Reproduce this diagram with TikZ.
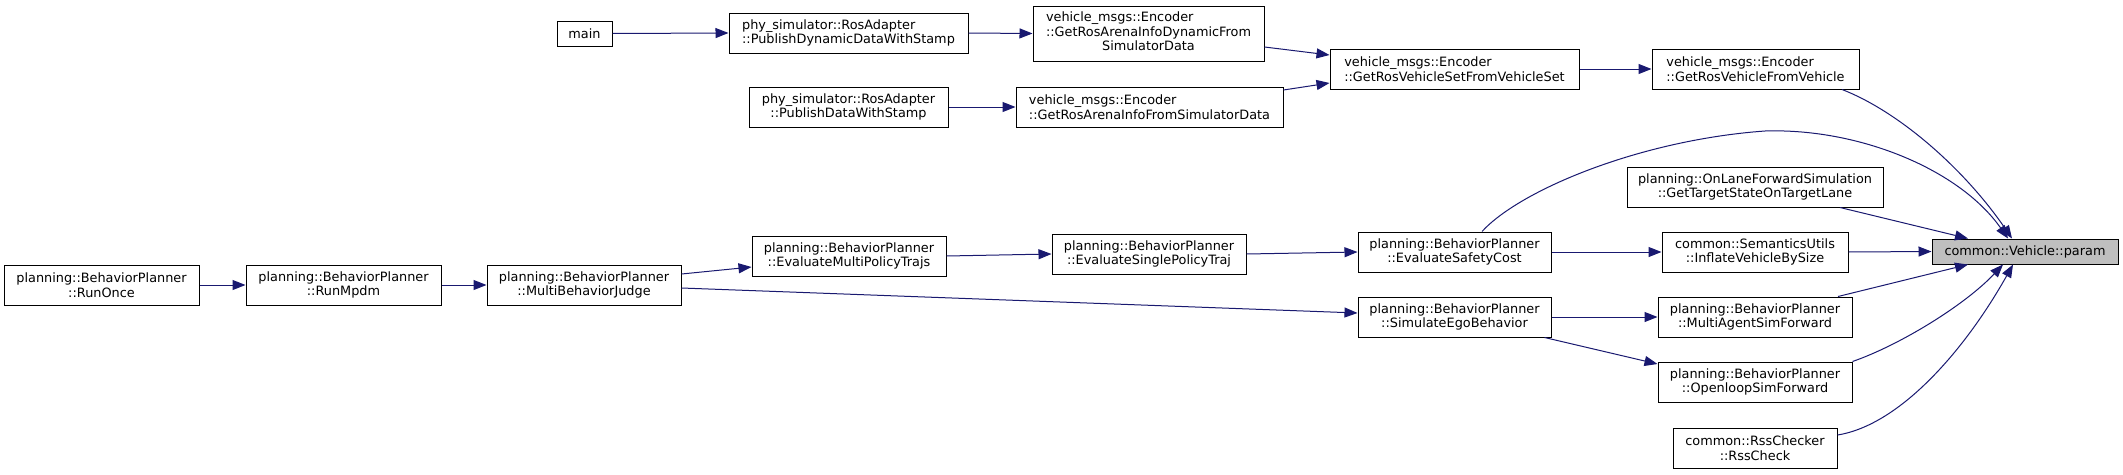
\documentclass[tikz,border=0pt]{standalone}
\usepackage{fontspec}
\setmainfont{DejaVu Sans}
\usetikzlibrary{arrows.meta,calc}
\definecolor{edgeblue}{HTML}{191970}
\definecolor{hlgray}{HTML}{BFBFBF}
\begin{document}
\begin{tikzpicture}[x=1pt,y=-1pt,
  box/.style={draw=black, line width=1pt, fill=white, inner sep=0pt,
    minimum height=40pt, font=\fontsize{12.85pt}{14.5pt}\selectfont, align=center},
  lbox/.style={box, align=left},
  edge/.style={draw=edgeblue, line width=1pt, -{Triangle[length=13pt,width=10pt]}}]
\useasboundingbox (0,0) rectangle (2123,474);
\fill[white] (0,0) rectangle (2123,474);

% column 2
\node[box, minimum width=55pt, minimum height=25pt] (main) at (584.5,33.5) {main};
\node[box, minimum width=194pt] (mbj) at (584,285) {planning::BehaviorPlanner\\::MultiBehaviorJudge};
% column 0,1
\node[box, minimum width=195pt] (runonce) at (101.5,285) {planning::BehaviorPlanner\\::RunOnce};
\node[box, minimum width=195pt] (runmpdm) at (343.5,285) {planning::BehaviorPlanner\\::RunMpdm};
% column 3
\node[lbox, minimum width=239pt] (pddws) at (848.5,33) {phy\_simulator::RosAdapter\\::PublishDynamicDataWithStamp};
\node[box, minimum width=199pt] (pdws) at (848.5,107) {phy\_simulator::RosAdapter\\::PublishDataWithStamp};
\node[box, minimum width=194pt] (empt) at (849,256) {planning::BehaviorPlanner\\::EvaluateMultiPolicyTrajs};
% column 4
\node[box, minimum width=231pt, minimum height=55pt] (graidfsd) at (1148.5,33.5)
  {\begin{tabular}{@{}l@{}}vehicle\_msgs::Encoder\\::GetRosArenaInfoDynamicFrom\\\multicolumn{1}{@{}c@{}}{SimulatorData}\end{tabular}};
\node[lbox, minimum width=267pt] (graifsd) at (1149.5,107) {vehicle\_msgs::Encoder\\::GetRosArenaInfoFromSimulatorData};
\node[box, minimum width=194pt] (espt) at (1149,254) {planning::BehaviorPlanner\\::EvaluateSinglePolicyTraj};
% column 5
\node[lbox, minimum width=249pt] (grvsfvs) at (1454.5,69) {vehicle\_msgs::Encoder\\::GetRosVehicleSetFromVehicleSet};
\node[box, minimum width=193pt] (esc) at (1454.5,252) {planning::BehaviorPlanner\\::EvaluateSafetyCost};
\node[box, minimum width=193pt] (seb) at (1454.5,317) {planning::BehaviorPlanner\\::SimulateEgoBehavior};
% column 6
\node[lbox, minimum width=207pt] (grvfv) at (1755.5,69) {vehicle\_msgs::Encoder\\::GetRosVehicleFromVehicle};
\node[box, minimum width=256pt] (olfs) at (1755,187) {planning::OnLaneForwardSimulation\\::GetTargetStateOnTargetLane};
\node[box, minimum width=186pt] (ivbs) at (1755,252) {common::SemanticsUtils\\::InflateVehicleBySize};
\node[box, minimum width=194pt] (masf) at (1755,317) {planning::BehaviorPlanner\\::MultiAgentSimForward};
\node[box, minimum width=194pt] (olsf) at (1755,382) {planning::BehaviorPlanner\\::OpenloopSimForward};
\node[box, minimum width=164pt] (rss) at (1755,448) {common::RssChecker\\::RssCheck};
% column 7
\node[box, fill=hlgray, minimum width=186pt, minimum height=25pt] (param) at (2025,251.5) {common::Vehicle::param};

% edges
\draw[edge] (main.east) -- (pddws.west);
\draw[edge] (pddws.east) -- (graidfsd.west);
\draw[edge] (pdws.east) -- (graifsd.west);
\draw[edge] ($(graidfsd.east)+(0,13.5)$) -- ($(grvsfvs.west)+(0,-14)$);
\draw[edge] ($(graifsd.east)+(0,-17)$) -- ($(grvsfvs.west)+(0,14)$);
\draw[edge] (grvsfvs.east) -- (grvfv.west);
\draw[edge] ($(grvfv.south)+(86.5,0)$) .. controls (1900,112) and (1965,170) .. ($(param.north)+(-13,0)$);
\coordinate (peak) at (1765,131);
\draw[edge] ($(esc.north)+(27.5,0)$) .. controls (1520,190) and (1640,140) .. (peak)
  .. controls (1860,128) and (1960,170) .. ($(param.north)+(-17,0)$);
\draw[edge] ($(olfs.south)+(85,0)$) -- ($(param.north)+(-57,0)$);
\draw[edge] (ivbs.east) -- (param.west);
\draw[edge] (esc.east) -- (ivbs.west);
\draw[edge] (espt.east) -- (esc.west);
\draw[edge] (empt.east) -- (espt.west);
\draw[edge] ($(mbj.east)+(0,-11)$) -- ($(empt.west)+(0,11)$);
\draw[edge] ($(mbj.east)+(0,3)$) -- ($(seb.west)+(0,-4)$);
\draw[edge] (runonce.east) -- (runmpdm.west);
\draw[edge] (runmpdm.east) -- (mbj.west);
\draw[edge] (seb.east) -- (masf.west);
\draw[edge] ($(seb.south)+(90,0)$) -- ($(olsf.west)+(0,-18)$);
\draw[edge] ($(masf.north)+(83,0)$) -- ($(param.south)+(-57,0)$);
\draw[edge] (olsf.north east) .. controls (1900,345) and (1965,305) .. ($(param.south)+(-22,0)$);
\draw[edge] ($(rss.east)+(0,-13)$) .. controls (1900,425) and (1965,350) .. ($(param.south)+(-12,0)$);
\end{tikzpicture}
\end{document}
